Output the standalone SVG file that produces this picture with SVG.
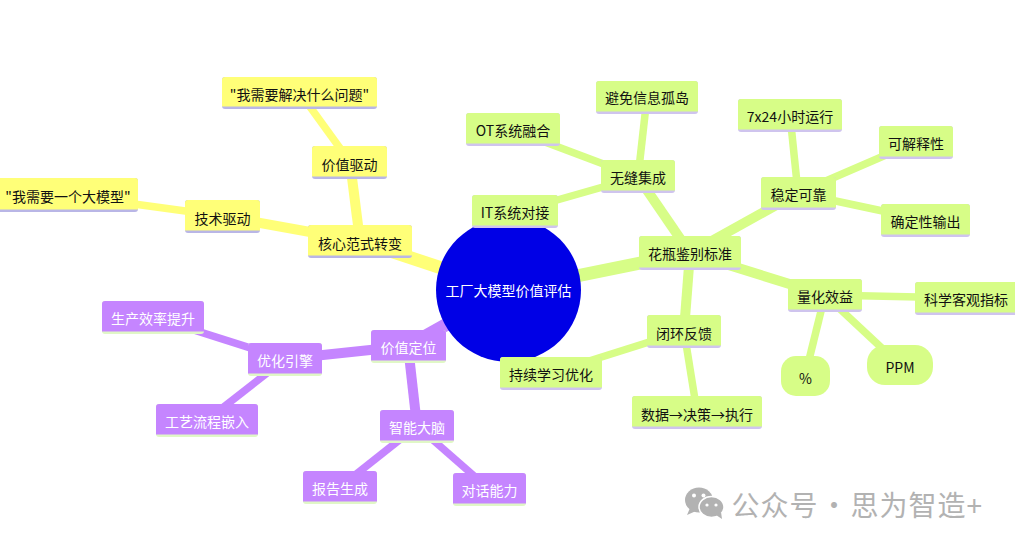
<svg xmlns="http://www.w3.org/2000/svg" width="1015" height="545" viewBox="0 0 1015 545">
<style>
text{font-family:"Noto Sans CJK SC","Noto Sans",sans-serif;font-size:14px;text-anchor:middle;dominant-baseline:central;fill:#111}
.y .b{fill:#ffff78}.y .l{fill:#b9b6e6}
.g .b{fill:#d7fd87}.g .l{fill:#cfc4ee}
.p .b{fill:#c585ff}.p .l{fill:#e0f7c6}.p text{fill:#fff}
#connectors line{stroke-linecap:butt;fill:none}
.ey{stroke:#ffff78}.eg{stroke:#d7fd87}.ep{stroke:#c585ff}
.w1{stroke-width:13}.w2{stroke-width:10}.w3{stroke-width:7.5}
.wm{font-size:28px;fill:#b2b2b2;text-anchor:start;letter-spacing:1px}
</style>
<rect width="1015" height="545" fill="#fff"/>
<g id="connectors">
<line class="ey w1" x1="508" y1="290" x2="360" y2="241"/>
<line class="ey w2" x1="360" y1="241" x2="350" y2="162"/>
<line class="ey w2" x1="360" y1="241" x2="222" y2="216"/>
<line class="ey w3" x1="350" y1="162" x2="300" y2="93"/>
<line class="ey w3" x1="222" y1="216" x2="68" y2="195"/>
<line class="eg w1" x1="508" y1="290" x2="690" y2="253"/>
<line class="eg w2" x1="690" y1="253" x2="638" y2="177"/>
<line class="eg w2" x1="690" y1="253" x2="798" y2="193"/>
<line class="eg w2" x1="690" y1="253" x2="825" y2="295"/>
<line class="eg w2" x1="690" y1="253" x2="684" y2="331"/>
<line class="eg w3" x1="638" y1="177" x2="513" y2="130"/>
<line class="eg w3" x1="638" y1="177" x2="647" y2="97"/>
<line class="eg w3" x1="638" y1="177" x2="515" y2="212"/>
<line class="eg w3" x1="798" y1="193" x2="790" y2="115"/>
<line class="eg w3" x1="798" y1="193" x2="916" y2="142"/>
<line class="eg w3" x1="798" y1="193" x2="925" y2="220"/>
<line class="eg w3" x1="825" y1="295" x2="965" y2="298"/>
<line class="eg w3" x1="825" y1="295" x2="805" y2="376"/>
<line class="eg w3" x1="825" y1="295" x2="900" y2="365"/>
<line class="eg w3" x1="684" y1="331" x2="551" y2="373"/>
<line class="eg w3" x1="684" y1="331" x2="697" y2="412"/>
<line class="ep w1" x1="508" y1="290" x2="408" y2="346"/>
<line class="ep w2" x1="408" y1="346" x2="285" y2="359"/>
<line class="ep w2" x1="408" y1="346" x2="417" y2="426"/>
<line class="ep w3" x1="285" y1="359" x2="153" y2="317"/>
<line class="ep w3" x1="285" y1="359" x2="207" y2="420"/>
<line class="ep w3" x1="417" y1="426" x2="340" y2="487"/>
<line class="ep w3" x1="417" y1="426" x2="489" y2="489"/>
</g>
<g id="root"><ellipse cx="508.500" cy="290" rx="72.500" ry="72" fill="#0000e6"/><text x="508.500" y="289.500" style="fill:#fff">工厂大模型价值评估</text></g>
<g id="n-core" class="y"><rect class="l" x="308" y="225" width="104" height="33" rx="3"/><path class="b" d="M308 255.500V228a3 3 0 0 1 3-3h98a3 3 0 0 1 3 3v27.500z"/><text x="360" y="242.500">核心范式转变</text></g>
<g id="n-value" class="y"><rect class="l" x="312" y="146" width="75" height="33" rx="3"/><path class="b" d="M312 176.500V149a3 3 0 0 1 3-3h69a3 3 0 0 1 3 3v27.500z"/><text x="349.500" y="163.500">价值驱动</text></g>
<g id="n-tech" class="y"><rect class="l" x="185" y="200" width="75" height="33" rx="3"/><path class="b" d="M185 230.500V203a3 3 0 0 1 3-3h69a3 3 0 0 1 3 3v27.500z"/><text x="222.500" y="218">技术驱动</text></g>
<g id="n-q1" class="y"><rect class="l" x="222" y="77" width="155" height="32" rx="3"/><path class="b" d="M222 106.500V80a3 3 0 0 1 3-3h149a3 3 0 0 1 3 3v26.500z"/><text x="299.500" y="93.500">"我需要解决什么问题"</text></g>
<g id="n-q2" class="y"><rect class="l" x="-2" y="178" width="140" height="34" rx="3"/><path class="b" d="M-2 209.500V181a3 3 0 0 1 3-3h134a3 3 0 0 1 3 3v28.500z"/><text x="68" y="196">"我需要一个大模型"</text></g>
<g id="n-vase" class="g"><rect class="l" x="639" y="236" width="102" height="34" rx="3"/><path class="b" d="M639 267.500V239a3 3 0 0 1 3-3h96a3 3 0 0 1 3 3v28.500z"/><text x="690" y="253">花瓶鉴别标准</text></g>
<g id="n-seam" class="g"><rect class="l" x="601" y="160" width="74" height="33" rx="3"/><path class="b" d="M601 190.500V163a3 3 0 0 1 3-3h68a3 3 0 0 1 3 3v27.500z"/><text x="638" y="177">无缝集成</text></g>
<g id="n-ot" class="g"><rect class="l" x="466" y="113" width="94" height="33" rx="3"/><path class="b" d="M466 143.500V116a3 3 0 0 1 3-3h88a3 3 0 0 1 3 3v27.500z"/><text x="513" y="130">OT系统融合</text></g>
<g id="n-silo" class="g"><rect class="l" x="596" y="81" width="102" height="33" rx="3"/><path class="b" d="M596 111.500V84a3 3 0 0 1 3-3h96a3 3 0 0 1 3 3v27.500z"/><text x="647" y="97">避免信息孤岛</text></g>
<g id="n-it" class="g"><rect class="l" x="472" y="195" width="86" height="33" rx="3"/><path class="b" d="M472 225.500V198a3 3 0 0 1 3-3h80a3 3 0 0 1 3 3v27.500z"/><text x="515" y="212">IT系统对接</text></g>
<g id="n-stable" class="g"><rect class="l" x="761" y="177" width="75" height="33" rx="3"/><path class="b" d="M761 207.500V180a3 3 0 0 1 3-3h69a3 3 0 0 1 3 3v27.500z"/><text x="798.500" y="194">稳定可靠</text></g>
<g id="n-724" class="g"><rect class="l" x="738" y="99" width="104" height="33" rx="3"/><path class="b" d="M738 129.500V102a3 3 0 0 1 3-3h98a3 3 0 0 1 3 3v27.500z"/><text x="790" y="116">7x24小时运行</text></g>
<g id="n-explain" class="g"><rect class="l" x="879" y="126" width="74" height="33" rx="3"/><path class="b" d="M879 156.500V129a3 3 0 0 1 3-3h68a3 3 0 0 1 3 3v27.500z"/><text x="916" y="143">可解释性</text></g>
<g id="n-determ" class="g"><rect class="l" x="881" y="204" width="89" height="33" rx="3"/><path class="b" d="M881 234.500V207a3 3 0 0 1 3-3h83a3 3 0 0 1 3 3v27.500z"/><text x="925.500" y="221">确定性输出</text></g>
<g id="n-quant" class="g"><rect class="l" x="788" y="279" width="74" height="33" rx="3"/><path class="b" d="M788 309.500V282a3 3 0 0 1 3-3h68a3 3 0 0 1 3 3v27.500z"/><text x="825" y="296">量化效益</text></g>
<g id="n-sci" class="g"><rect class="l" x="915" y="282" width="104" height="33" rx="3"/><path class="b" d="M915 312.500V285a3 3 0 0 1 3-3h98a3 3 0 0 1 3 3v27.500z"/><text x="966" y="299">科学客观指标</text></g>
<g id="n-pct" class="g"><rect class="b" x="781" y="356" width="49" height="40" rx="15"/><text x="805.500" y="378">%</text></g>
<g id="n-ppm" class="g"><rect class="b" x="867" y="345" width="66" height="40" rx="18"/><text x="900" y="367">PPM</text></g>
<g id="n-loop" class="g"><rect class="l" x="647" y="315" width="74" height="33" rx="3"/><path class="b" d="M647 345.500V318a3 3 0 0 1 3-3h68a3 3 0 0 1 3 3v27.500z"/><text x="684" y="333">闭环反馈</text></g>
<g id="n-learn" class="g"><rect class="l" x="500" y="357" width="102" height="33" rx="3"/><path class="b" d="M500 387.500V360a3 3 0 0 1 3-3h96a3 3 0 0 1 3 3v27.500z"/><text x="551" y="374">持续学习优化</text></g>
<g id="n-data" class="g"><rect class="l" x="632" y="396" width="130" height="33" rx="3"/><path class="b" d="M632 426.500V399a3 3 0 0 1 3-3h124a3 3 0 0 1 3 3v27.500z"/><text x="697" y="414">数据→决策→执行</text></g>
<g id="n-pos" class="p"><rect class="l" x="371" y="330" width="75" height="33" rx="3"/><path class="b" d="M371 360.500V333a3 3 0 0 1 3-3h69a3 3 0 0 1 3 3v27.500z"/><text x="408.500" y="347">价值定位</text></g>
<g id="n-engine" class="p"><rect class="l" x="248" y="343" width="74" height="33" rx="3"/><path class="b" d="M248 373.500V346a3 3 0 0 1 3-3h68a3 3 0 0 1 3 3v27.500z"/><text x="285" y="360">优化引擎</text></g>
<g id="n-eff" class="p"><rect class="l" x="102" y="301" width="102" height="33" rx="3"/><path class="b" d="M102 331.500V304a3 3 0 0 1 3-3h96a3 3 0 0 1 3 3v27.500z"/><text x="153" y="318">生产效率提升</text></g>
<g id="n-proc" class="p"><rect class="l" x="156" y="404" width="102" height="33" rx="3"/><path class="b" d="M156 434.500V407a3 3 0 0 1 3-3h96a3 3 0 0 1 3 3v27.500z"/><text x="207" y="421">工艺流程嵌入</text></g>
<g id="n-brain" class="p"><rect class="l" x="380" y="410" width="74" height="33" rx="3"/><path class="b" d="M380 440.500V413a3 3 0 0 1 3-3h68a3 3 0 0 1 3 3v27.500z"/><text x="417" y="427">智能大脑</text></g>
<g id="n-report" class="p"><rect class="l" x="303" y="471" width="74" height="33" rx="3"/><path class="b" d="M303 501.500V474a3 3 0 0 1 3-3h68a3 3 0 0 1 3 3v27.500z"/><text x="340" y="488">报告生成</text></g>
<g id="n-chat" class="p"><rect class="l" x="453" y="473" width="73" height="33" rx="3"/><path class="b" d="M453 503.500V476a3 3 0 0 1 3-3h67a3 3 0 0 1 3 3v27.500z"/><text x="489.500" y="490">对话能力</text></g>
<g id="watermark">
<ellipse cx="699" cy="500" rx="14" ry="12.500" fill="#b2b2b2"/><path d="M690 508l-3 7 9-4z" fill="#b2b2b2"/>
<ellipse cx="711.500" cy="507" rx="12.500" ry="10.500" fill="#b2b2b2" stroke="#fff" stroke-width="1.500"/><path d="M716 515l6 4-1-7z" fill="#b2b2b2"/>
<circle cx="694" cy="495.500" r="2" fill="#fff"/><circle cx="703.500" cy="495.500" r="2" fill="#fff"/><circle cx="707" cy="505" r="1.600" fill="#fff"/><circle cx="716" cy="505" r="1.600" fill="#fff"/>
<text class="wm" x="731.500" y="503.500" style="word-spacing:-5.750px">公众号 · 思为智造+</text>
</g>
</svg>
